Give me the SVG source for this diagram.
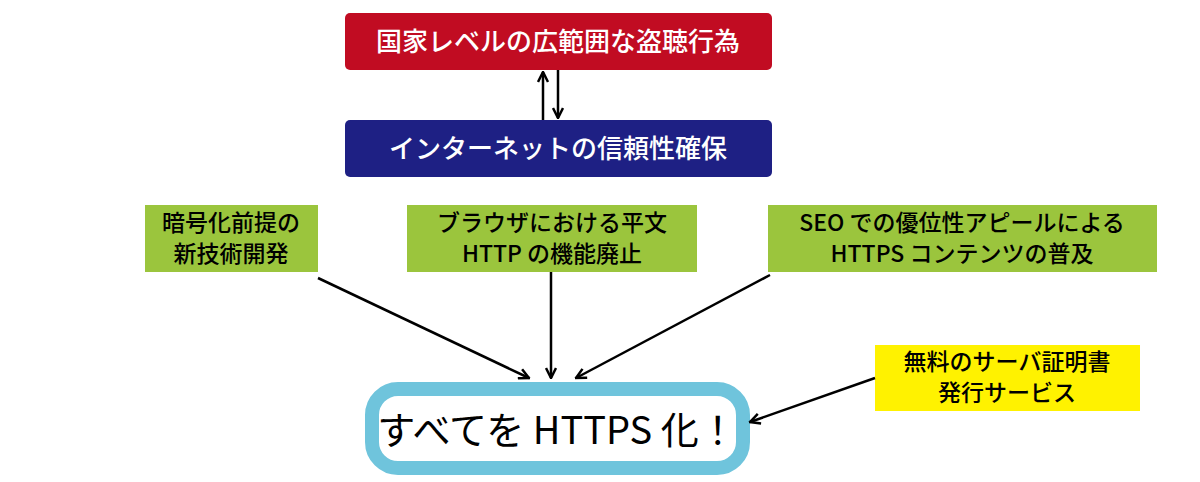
<svg xmlns="http://www.w3.org/2000/svg" width="1200" height="482" viewBox="0 0 1200 482">
<style>
text{font-family:"Noto Sans CJK JP","Noto Sans",sans-serif;text-anchor:middle;font-weight:500}
.w{fill:#fff;font-size:26px}
.k{fill:#000;font-size:23px}
.g{fill:#9bc53d}
.c{stroke:#000;stroke-width:2.5;fill:none;marker-end:url(#a)}
</style>
<defs><marker id="a" viewBox="0 0 10 10" refX="9" refY="5" markerWidth="5" markerHeight="5" orient="auto"><path d="M1,1 L9,5 L1,9" fill="none" stroke="#000" stroke-width="2"/></marker></defs>
<rect width="1200" height="482" fill="#fff"/>
<g id="n1"><rect x="345" y="13" width="427" height="57" rx="5" fill="#c10c22"/><text class="w" x="558" y="51">国家レベルの広範囲な盗聴行為</text></g>
<g id="n2"><rect x="345" y="120" width="427" height="57" rx="5" fill="#1e2084"/><text class="w" x="558" y="158">インターネットの信頼性確保</text></g>
<g id="n3"><rect class="g" x="145" y="205" width="173" height="67"/><text class="k" x="231" y="231">暗号化前提の</text><text class="k" x="231" y="262">新技術開発</text></g>
<g id="n4"><rect class="g" x="407" y="205" width="290" height="67"/><text class="k" x="552" y="231">ブラウザにおける平文</text><text class="k" x="552" y="262">HTTP の機能廃止</text></g>
<g id="n5"><rect class="g" x="768" y="205" width="389" height="67"/><text class="k" x="962" y="231">SEO での優位性アピールによる</text><text class="k" x="962" y="262">HTTPS コンテンツの普及</text></g>
<g id="n6"><rect x="875" y="345" width="265" height="66" fill="#fff200"/><text class="k" x="1007" y="370">無料のサーバ証明書</text><text class="k" x="1007" y="401">発行サービス</text></g>
<g id="n7"><rect x="372" y="389" width="371" height="79" rx="26" fill="#fff" stroke="#6fc4dc" stroke-width="14"/><text x="557" y="444" style="font-size:38px;font-weight:400" fill="#000">すべてを HTTPS 化！</text></g>
<g id="connectors">
<path class="c" d="M543,120 V72"/>
<path class="c" d="M558,70 V118"/>
<path class="c" d="M318,278 L529,378"/>
<path class="c" d="M551,272 V378"/>
<path class="c" d="M770,275 L576,378"/>
<path class="c" d="M875,378 L750,422"/>
</g>
</svg>
